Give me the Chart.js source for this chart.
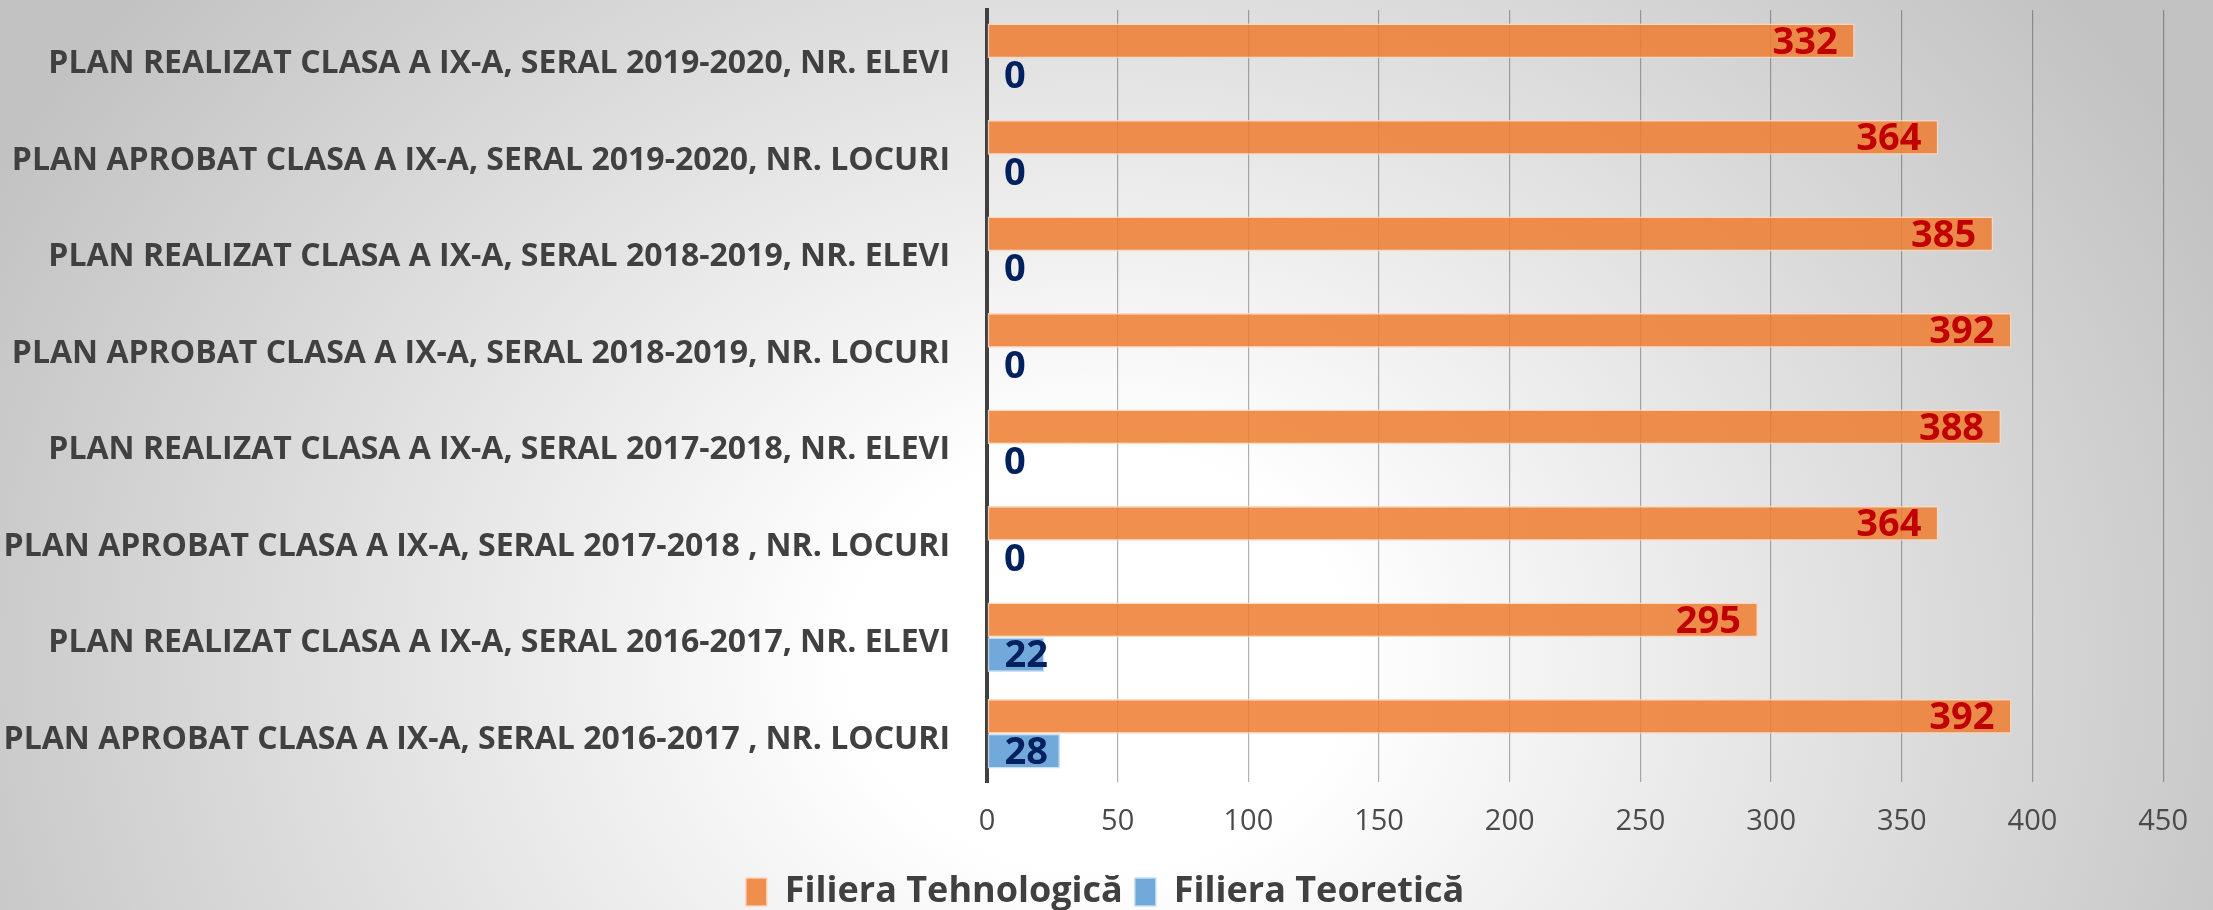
<!DOCTYPE html>
<html>
<head>
<meta charset="utf-8">
<script src="https://cdn.jsdelivr.net/npm/chart.js@4.4.1/dist/chart.umd.min.js"></script>
<style>
  html, body { margin: 0; padding: 0; width: 2213px; height: 910px; overflow: hidden; }
  body {
    background: radial-gradient(ellipse 1250px 1050px at 1100px 660px, #ffffff 0%, #ffffff 20%, #c2c2c2 100%);
  }
  canvas { display: block; }
</style>
</head>
<body>
<canvas id="chart" width="2210" height="920"></canvas>
<script>
const categories = [
  "PLAN REALIZAT CLASA A IX-A, SERAL 2019-2020, NR. ELEVI",
  "PLAN APROBAT CLASA A IX-A, SERAL 2019-2020, NR. LOCURI",
  "PLAN REALIZAT CLASA A IX-A, SERAL 2018-2019, NR. ELEVI",
  "PLAN APROBAT CLASA A IX-A, SERAL 2018-2019, NR. LOCURI",
  "PLAN REALIZAT CLASA A IX-A, SERAL 2017-2018, NR. ELEVI",
  "PLAN APROBAT CLASA A IX-A, SERAL 2017-2018 , NR. LOCURI",
  "PLAN REALIZAT CLASA A IX-A, SERAL 2016-2017, NR. ELEVI",
  "PLAN APROBAT CLASA A IX-A, SERAL 2016-2017 , NR. LOCURI",
];
const seriesNames = ["Filiera Tehnologică", "Filiera Teoretică"];
const tehnologica = [332, 364, 385, 392, 388, 364, 295, 392];
const teoretica = [0, 0, 0, 0, 0, 0, 22, 28];
const xMin = 0;
const xMax = 450;
const xStep = 50;

const FONT = '"Open Sans", "DejaVu Sans", sans-serif';

// value labels drawn next to each bar (no datalabels plugin offline)
const valueLabels = {
  id: "valueLabels",
  afterDatasetsDraw(chart) {
    const ctx = chart.ctx;
    ctx.save();
    ctx.font = "bold 38px " + FONT;
    ctx.textBaseline = "middle";
    chart.data.datasets.forEach((ds, i) => {
      chart.getDatasetMeta(i).data.forEach((bar, j) => {
        const v = ds.data[j];
        if (i === 0) {
          ctx.textAlign = "right";
          ctx.fillStyle = "#C00000";
          ctx.fillText(String(v), bar.x - 17, bar.y + 2);
        } else {
          ctx.textAlign = "left";
          ctx.fillStyle = "#002060";
          ctx.fillText(String(v), bar.base + 17, bar.y + 2);
        }
      });
    });
    ctx.restore();
  },
};

const ctx = document.getElementById("chart").getContext("2d");
new Chart(ctx, {
  type: "bar",
  data: {
    labels: categories,
    datasets: [
      {
        label: seriesNames[0],
        data: tehnologica,
        backgroundColor: "rgba(237,125,49,0.86)",
        borderColor: "rgba(251,215,190,0.9)",
        borderWidth: 1.5,
        borderSkipped: false,
        barPercentage: 1,
        categoryPercentage: 0.72,
      },
      {
        label: seriesNames[1],
        data: teoretica,
        backgroundColor: "rgba(91,155,213,0.86)",
        borderColor: "rgba(200,222,242,0.9)",
        borderWidth: 1.5,
        borderSkipped: false,
        barPercentage: 1,
        categoryPercentage: 0.72,
      },
    ],
  },
  options: {
    indexAxis: "y",
    responsive: false,
    animation: false,
    layout: { padding: { top: 10, left: 0, right: 0, bottom: 0 } },
    scales: {
      x: {
        min: xMin,
        max: xMax,
        ticks: {
          stepSize: xStep,
          color: "#4a4a4a",
          padding: 22,
          font: { family: FONT, size: 29 },
        },
        grid: { color: "rgba(0,0,0,0.3)", lineWidth: 1.2, drawTicks: false },
        border: { display: false },
        afterFit(scale) {
          const legendH = scale.chart.legend ? scale.chart.legend.height : 70;
          scale.height = scale.chart.height - 782 - legendH;
        },
      },
      y: {
        ticks: {
          color: "#404040",
          padding: 37,
          labelOffset: 6,
          font: { family: FONT, size: 32, weight: "bold" },
        },
        grid: { display: false, drawTicks: false },
        border: { display: true, color: "#404040", width: 4 },
        afterFit(scale) {
          scale.width = 987;
          scale.paddingTop = 0;
          scale.paddingBottom = 0;
        },
      },
    },
    plugins: {
      legend: {
        position: "bottom",
        labels: {
          color: "#404040",
          boxWidth: 21,
          boxHeight: 28,
          padding: 12,
          font: { family: FONT, size: 36, weight: "bold" },
        },
      },
      tooltip: { enabled: false },
    },
  },
  plugins: [valueLabels],
});
</script>
</body>
</html>
